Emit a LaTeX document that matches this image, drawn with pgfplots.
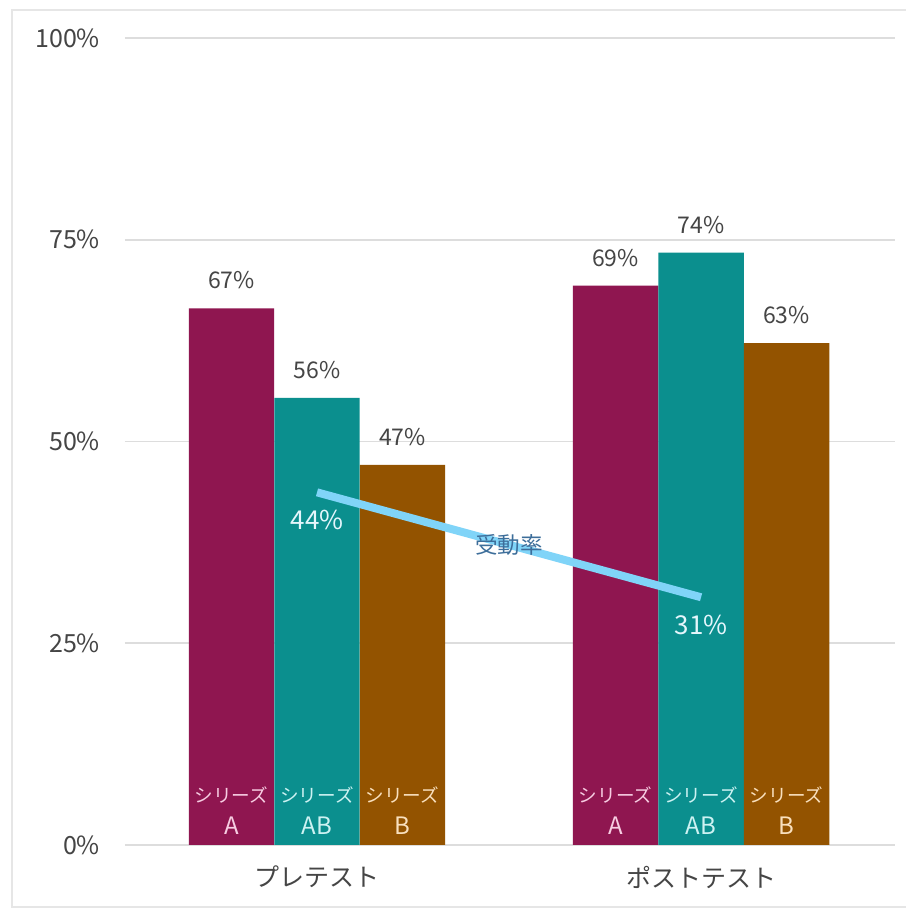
\documentclass[border=0pt]{standalone}
\usepackage{fontspec}
\usepackage{pgfplots}
\pgfplotsset{compat=1.18}
\setmainfont{Noto Sans CJK JP}
\definecolor{cA}{HTML}{8F1650}
\definecolor{cAB}{HTML}{0B8F8E}
\definecolor{cB}{HTML}{935300}
\definecolor{lineblue}{HTML}{80D4F8}
\definecolor{labelblue}{HTML}{3D6E9A}
\definecolor{textgray}{HTML}{454545}
\definecolor{gridgray}{HTML}{DDDDDD}
\definecolor{framegray}{HTML}{E6E6E6}
\definecolor{tA}{HTML}{F7CDE2}
\definecolor{tAB}{HTML}{CDF2F2}
\definecolor{tB}{HTML}{F9E0BE}
\definecolor{tline}{HTML}{E4F6FC}
\tikzset{inlab/.style={anchor=south, inner sep=0pt, yshift=5pt, align=center, font=\fontsize{12}{16}\selectfont},
  vlab/.style={anchor=south, yshift=6pt, text=textgray, font=\fontsize{11.5}{13}\selectfont}}
\newcommand{\ser}{{\fontsize{9.3}{16}\selectfont シリーズ}}
\begin{document}
\begin{tikzpicture}
\fill[white] (-62.5pt,-34.5pt) rectangle (390.5pt,422.5pt);
\draw[framegray, line width=1pt] (390.5pt,417.5pt) -- (-56.5pt,417.5pt) -- (-56.5pt,-31pt) -- (390.5pt,-31pt);
\begin{axis}[
  at={(0,0)}, anchor=south west,
  scale only axis, width=385pt, height=403.5pt,
  xmin=-0.5, xmax=1.505, ymin=0, ymax=100,
  axis line style={draw=none}, major tick length=0pt,
  ytick={0,25,50,75,100},
  yticklabels={0\%,25\%,50\%,75\%,100\%},
  ymajorgrids, grid style={gridgray, line width=0.8pt},
  xtick={0,1}, xticklabels={プレテスト,ポストテスト},
  yticklabel style={font=\fontsize{12.5}{14}\selectfont, text=textgray, xshift=-9pt},
  xticklabel style={font=\fontsize{12.5}{14}\selectfont, text=textgray, yshift=-7pt},
  clip=false,
  bar width=42.7pt,
]
\addplot[ybar, bar shift=-42.75pt, fill=cA, draw=none,
  point meta=explicit symbolic, nodes near coords,
  every node near coord/.append style={vlab, xshift=-42.75pt}]
  coordinates {(0,66.5) [67\%] (1,69.3) [69\%]};
\addplot[ybar, bar shift=0pt, fill=cAB, draw=none,
  point meta=explicit symbolic, nodes near coords,
  every node near coord/.append style={vlab}]
  coordinates {(0,55.4) [56\%] (1,73.4) [74\%]};
\addplot[ybar, bar shift=42.75pt, fill=cB, draw=none,
  point meta=explicit symbolic, nodes near coords,
  every node near coord/.append style={vlab, xshift=42.75pt}]
  coordinates {(0,47.1) [47\%] (1,62.2) [63\%]};
\addplot[sharp plot, no marks, color=lineblue, line width=4pt,
  point meta=explicit symbolic, nodes near coords,
  every node near coord/.append style={anchor=north, yshift=-3.5pt, text=tline, font=\fontsize{13}{15}\selectfont}]
  coordinates {(0,43.7) [44\%] (1,30.7) [31\%]}
  node[pos=0.5, text=labelblue, font=\fontsize{11.3}{13}\selectfont] {受動率};
\node[inlab, xshift=-42.75pt, text=tA] at (axis cs:0,0) {\ser\\A};
\node[inlab, text=tAB] at (axis cs:0,0) {\ser\\AB};
\node[inlab, xshift=42.75pt, text=tB] at (axis cs:0,0) {\ser\\B};
\node[inlab, xshift=-42.75pt, text=tA] at (axis cs:1,0) {\ser\\A};
\node[inlab, text=tAB] at (axis cs:1,0) {\ser\\AB};
\node[inlab, xshift=42.75pt, text=tB] at (axis cs:1,0) {\ser\\B};
\end{axis}
\end{tikzpicture}
\end{document}
